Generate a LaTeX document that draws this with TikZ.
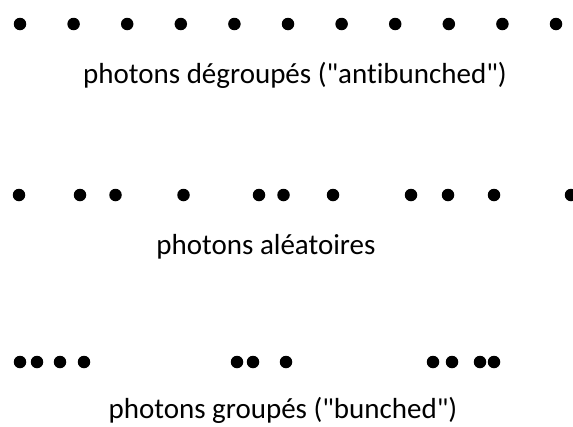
\documentclass[tikz,border=0pt]{standalone}
\usepackage{fontspec}
\setmainfont{Carlito}[Ligatures={NoCommon}]
\usepackage{tikz}
\usetikzlibrary{positioning}

\begin{document}
\begin{tikzpicture}[x=1pt, y=-1pt,
          photon/.style={circle, fill=black, inner sep=0pt,
                         minimum size=12.5pt},
          lbl/.style={font=\fontsize{29}{35}\selectfont, inner sep=0pt,
                      anchor=base}
        ]
        \useasboundingbox (0,0) rectangle (573,426);
        % antibunched row
        \foreach \i in {0,...,10}
          \node[photon] (ab\i) at ({20+53.6*\i}, 24) {};
        \node[lbl] (tab) at (295, 83)
              {photons dégroupés (\textquotedbl antibunched\textquotedbl)};
        % random row
        \foreach \x [count=\i] in {19,80,115.5,183.5,259,283.5,333,411,448,494,571}
          \node[photon] (rd\i) at (\x, 195) {};
        \node[lbl] (trd) at (266, 254) {photons aléatoires};
        % bunched row
        \foreach \x [count=\i] in {20,37,60,84,237,253,286,433,452,480,494}
          \node[photon] (bu\i) at (\x, 362) {};
        \node[lbl] (tbu) at (283, 418)
              {photons groupés (\textquotedbl bunched\textquotedbl)};
      \end{tikzpicture}
\end{document}
